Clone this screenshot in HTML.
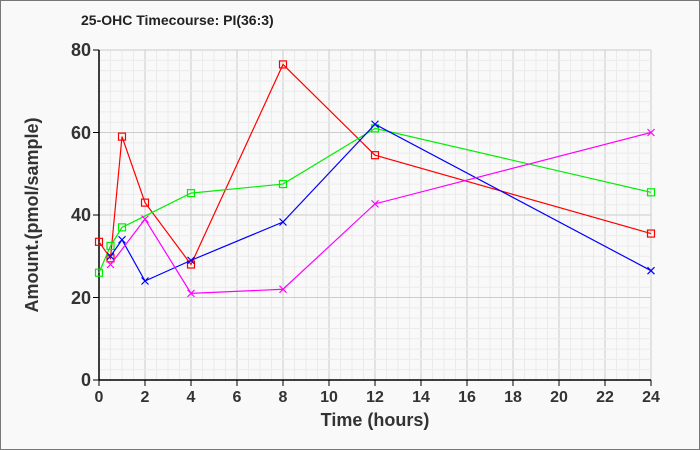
<!DOCTYPE html>
<html><head><style>body{margin:0;background:#fff}svg{display:block}</style></head><body>
<svg width="700" height="450" xmlns="http://www.w3.org/2000/svg" font-family="Liberation Sans, sans-serif">
<rect x="0.5" y="0.5" width="699" height="449" fill="#f9f9f9" stroke="#777"/>
<text x="81" y="25" font-size="14" font-weight="bold" fill="#222">25-OHC Timecourse: PI(36:3)</text>
<g id="grid"></g>
<line x1="99" y1="50" x2="99" y2="380" stroke="#000" stroke-width="1.5"/>
<line x1="99" y1="380" x2="651" y2="380" stroke="#000" stroke-width="1.5"/>
<g font-size="18" font-weight="bold" fill="#333" text-anchor="end" id="yl">
<text x="91" y="56">80</text><text x="91" y="139">60</text><text x="91" y="221">40</text><text x="91" y="304">20</text><text x="91" y="386">0</text></g>
<g font-size="16" font-weight="bold" fill="#333" text-anchor="middle" id="xl"></g>
<text x="375" y="426" font-size="18" font-weight="bold" fill="#333" text-anchor="middle">Time (hours)</text>
<text transform="translate(38,215) rotate(-90)" font-size="18" font-weight="bold" fill="#333" text-anchor="middle">Amount.(pmol/sample)</text>
<g id="series" fill="none" stroke-width="1.2"></g>
</svg>
<script>
const X=h=>99+h*23, Y=v=>380-v*4.125, NS="http://www.w3.org/2000/svg";
const g=document.getElementById('grid');let s='';
for(let h=0.5;h<=24;h+=0.5){s+=`<line x1="${X(h)}" y1="50" x2="${X(h)}" y2="380" stroke="${h%2==0?'#ccc':'#ebebeb'}"/>`;}
for(let v=2.5;v<=80;v+=2.5){s+=`<line x1="99" y1="${Y(v)}" x2="651" y2="${Y(v)}" stroke="${v%20==0?'#ccc':'#ebebeb'}"/>`;}
for(let v=0;v<=80;v+=20)s+=`<line x1="93" y1="${Y(v)}" x2="99" y2="${Y(v)}" stroke="#000"/>`;
for(let h=0;h<=24;h+=2)s+=`<line x1="${X(h)}" y1="380" x2="${X(h)}" y2="386" stroke="#000"/>`;
g.innerHTML=s;
let xl='';for(let h=0;h<=24;h+=2)xl+=`<text x="${X(h)}" y="402">${h}</text>`;document.getElementById('xl').innerHTML=xl;
const series=[
['#f00','sq',[[0,33.5],[0.5,29.5],[1,59],[2,43],[4,28],[8,76.5],[12,54.5],[24,35.5]]],
['#0e0','sq',[[0,26],[0.5,32.5],[1,37],[4,45.3],[8,47.5],[12,61],[24,45.5]]],
['#00f','x',[[0.5,30],[1,34],[2,24],[4,29],[8,38.3],[12,62],[24,26.5]]],
['#f0f','x',[[0.5,28],[2,39],[4,21],[8,22],[12,42.7],[24,60]]]];
let o='';
for(const [c,m,p] of series){o+=`<polyline stroke="${c}" points="${p.map(q=>X(q[0])+','+Y(q[1])).join(' ')}"/>`;
for(const q of p){const x=X(q[0]),y=Y(q[1]);
if(m=='sq')o+=`<rect x="${x-3.5}" y="${y-3.5}" width="7" height="7" stroke="${c}"/>`;
else o+=`<path d="M${x-3.5} ${y-3.5}L${x+3.5} ${y+3.5}M${x-3.5} ${y+3.5}L${x+3.5} ${y-3.5}" stroke="${c}"/>`;}}
document.getElementById('series').innerHTML=o;
</script>
</body></html>
